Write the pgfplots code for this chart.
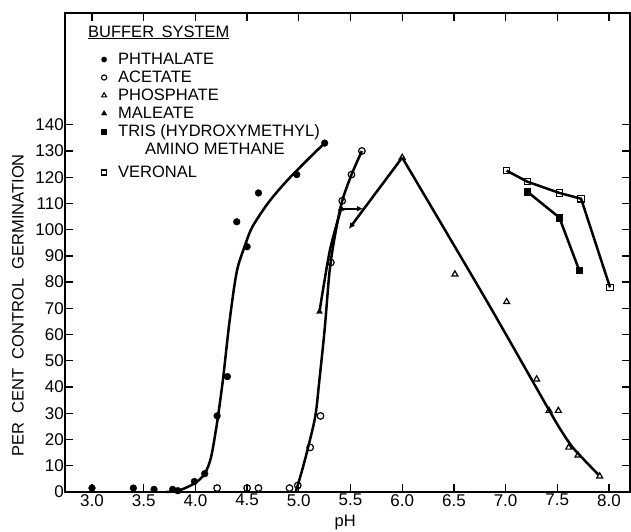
\documentclass[border=0pt]{standalone}
\usepackage{fontspec}
\setmainfont{Liberation Sans}
\usepackage{pgfplots}
\pgfplotsset{compat=1.18}
\usetikzlibrary{arrows.meta}
\pgfplotsset{lm/.style={only marks, legend image code/.code={\draw[##1] plot coordinates {(0bp,0bp)};}}}
\begin{document}
\fontsize{16.5bp}{19bp}\selectfont
\begin{tikzpicture}
\useasboundingbox (-65bp,-40bp) rectangle (566bp,492bp);
\begin{axis}[
  at={(0,0)}, anchor=south west, scale only axis,
  width=565bp, height=479bp,
  xmin=2.7389, xmax=8.2031, ymin=0, ymax=182.6,
  clip=false,
  axis line style={line width=1.4bp},
  tick pos=both, tick align=inside, major tick length=8bp,
  tick style={line width=1.3bp, black},
  xtick={3,3.5,4,4.5,5,5.5,6,6.5,7,7.5,8},
  ytick={0,10,...,140},
  /pgf/number format/assume math mode=true,
  xticklabel style={inner ysep=2bp, /pgf/number format/.cd, fixed, fixed zerofill, precision=1},
  ticklabel style={font=\fontsize{17bp}{19bp}\selectfont},
  yticklabel style={inner xsep=1bp},
  xlabel={pH}, ylabel={PER\hspace{0.55em}CENT\hspace{0.55em}CONTROL\hspace{0.55em}GERMINATION},
  xlabel style={at={(axis description cs:0.496,-0.064)}, anchor=center, font=\fontsize{16.5bp}{19bp}\selectfont},
  ylabel style={at={(axis description cs:-0.0832,0.39)}, anchor=center, font=\fontsize{16.5bp}{19bp}\selectfont},
  legend style={at={(axis cs:3.092,168.3)}, anchor=north west, draw=none, fill=none,
    inner sep=0pt, outer sep=0pt, font=\fontsize{16.5bp}{19bp}\selectfont,
    nodes={inner sep=1bp, text height=13bp, text depth=3bp},
    /tikz/every odd column/.append style={column sep=10.5bp}},
  legend cell align=left,
]
% ---------- Phthalate
\addplot[black, line width=2.5bp, smooth, tension=0.5, forget plot] coordinates {
 (3.72,0) (3.85,0.7) (4.0,3.5) (4.09,7) (4.15,13) (4.2,24) (4.23,32) (4.27,44) (4.33,65) (4.40,84) (4.48,94) (4.55,101) (4.7,110) (4.87,118) (5.08,126.5) (5.25,133)};
\addplot[only marks, mark=*, mark size=3.4bp, black, forget plot] coordinates {
 (3.0,1.5) (3.4,1.5) (3.6,1) (3.78,1) (3.83,0.5) (3.99,4) (4.09,7) (4.21,29) (4.31,44) (4.40,103) (4.50,93.5) (4.61,114) (4.98,121) (5.25,133)};
% ---------- Acetate
\addplot[black, line width=2.5bp, smooth, tension=0.5, forget plot] coordinates {
 (4.97,0) (5.03,8) (5.09,17) (5.16,29) (5.2,43) (5.25,62) (5.3,85) (5.36,100) (5.42,111) (5.51,121) (5.61,130)};
\addplot[only marks, mark=o, mark size=3.3bp, black, line width=1.2bp, fill=white, forget plot] coordinates {
 (4.21,1.5) (4.50,1.5) (4.61,1.5) (4.91,1.5) (4.99,2.5) (5.11,17) (5.21,29) (5.31,87.5) (5.42,111) (5.51,121) (5.61,130)};
% ---------- Maleate
\addplot[black, line width=2.5bp, smooth, tension=0.5, forget plot] coordinates {
 (5.2,68.7) (5.3,92) (5.41,108)};
\addplot[black, line width=2bp, -{Latex[length=6bp,width=6bp]}, forget plot] coordinates {
 (5.41,108) (5.62,108)};
\addplot[only marks, mark=triangle*, mark size=3.4bp, black, forget plot] coordinates {
 (5.20,68.7) (5.41,108)};
% ---------- Phosphate
\addplot[black, line width=2.5bp, -{Latex[length=6bp,width=6bp]}, forget plot] coordinates {
 (6.0,127.5) (5.485,100.3)};
\addplot[black, line width=2.5bp, smooth, tension=0.4, forget plot] coordinates {
 (6.0,127.5) (6.815,73) (7.38,34) (7.52,24.5) (7.655,16.7) (7.9,6.5)};
\addplot[only marks, mark=triangle, mark size=3.4bp, black, line width=1.2bp, fill=white, forget plot] coordinates {
 (6.0,127.5) (6.51,83) (7.01,72.5) (7.30,43) (7.42,31) (7.51,31) (7.61,17) (7.70,14) (7.91,6)};
% ---------- Tris
\addplot[black, line width=2.5bp, forget plot] coordinates {
 (7.21,114.5) (7.52,104.6) (7.71,84.7)};
\addplot[only marks, mark=square*, mark size=3.1bp, black, forget plot] coordinates {
 (7.21,114.5) (7.52,104.6) (7.71,84.7)};
% ---------- Veronal
\addplot[black, line width=2.5bp, forget plot] coordinates {
 (7.01,122.5) (7.21,118.3) (7.52,114) (7.73,111.8) (8.01,78)};
\addplot[only marks, mark=square, mark size=3.2bp, black, line width=1.2bp, fill=white, forget plot] coordinates {
 (7.01,122.5) (7.21,118.3) (7.52,114) (7.73,111.8) (8.01,78)};
% ---------- legend
\addlegendimage{lm, mark=*, mark size=2.6bp, black}
\addlegendentry{PHTHALATE}
\addlegendimage{lm, mark=o, mark size=2.6bp, black, line width=1.1bp}
\addlegendentry{ACETATE}
\addlegendimage{lm, mark=triangle, mark size=2.8bp, black, line width=1.1bp}
\addlegendentry{PHOSPHATE}
\addlegendimage{lm, mark=triangle*, mark size=3bp, black}
\addlegendentry{MALEATE}
\addlegendimage{lm, mark=square*, mark size=2.5bp, black}
\addlegendentry{TRIS (HYDROXYMETHYL)}
\addlegendimage{empty legend}
\addlegendentry[text depth=8bp]{\hspace*{27bp}AMINO METHANE}
\addlegendimage{lm, mark=square, mark size=2.5bp, black, line width=1.1bp}
\addlegendentry{VERONAL}
\node[anchor=west, inner sep=0pt] at (axis cs:2.961,175.2) {\underline{BUFFER\hspace{0.45em}SYSTEM}};
\end{axis}
\end{tikzpicture}
\end{document}
